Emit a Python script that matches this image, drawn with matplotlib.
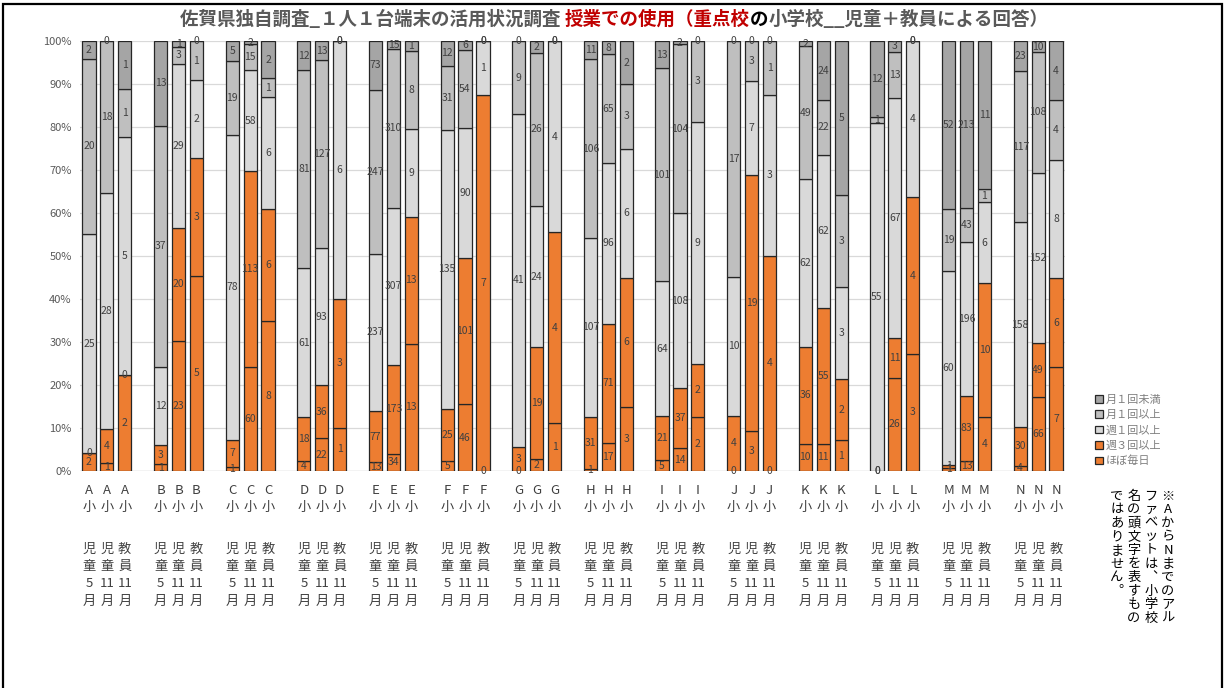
import matplotlib.pyplot as plt
from matplotlib.patches import Patch, Rectangle
from matplotlib.transforms import blended_transform_factory
import numpy as np

plt.rcParams['font.family'] = ['Noto Sans CJK JP', 'DejaVu Sans']

schools = list('ABCDEFGHIJKLMN')
periods = ['児\n童\n5\n月', '児\n童\n11\n月', '教\n員\n11\n月']

# counts per bar, 3 bars per school (児童5月, 児童11月, 教員11月)
daily = [2, 1, 2, 1, 23, 5, 1, 60, 8, 4, 22, 1, 13, 34, 13, 5, 46, 0, 0, 2, 1,
         1, 17, 3, 5, 14, 2, 0, 3, 0, 10, 11, 1, 0, 26, 3, 1, 13, 4, 4, 66, 7]
thrice = [0, 4, 0, 3, 20, 3, 7, 113, 6, 18, 36, 3, 77, 173, 13, 25, 101, 7, 3, 19, 4,
          31, 71, 6, 21, 37, 2, 4, 19, 4, 36, 55, 2, 0, 11, 4, 1, 83, 10, 30, 49, 6]
weekly = [25, 28, 5, 12, 29, 2, 78, 58, 6, 61, 93, 6, 237, 307, 9, 135, 90, 1, 41, 24, 4,
          107, 96, 6, 64, 108, 9, 10, 7, 3, 62, 62, 3, 55, 67, 4, 60, 196, 6, 158, 152, 8]
monthly = [20, 18, 1, 37, 3, 1, 19, 15, 1, 81, 127, 0, 247, 310, 8, 31, 54, 0, 9, 26, 0,
           106, 65, 3, 101, 104, 3, 17, 3, 1, 49, 22, 3, 1, 13, 0, 19, 43, 1, 117, 108, 4]
rare = [2, 0, 1, 13, 1, 0, 5, 2, 2, 12, 13, 0, 73, 15, 1, 12, 6, 0, 0, 2, 0,
        11, 8, 2, 13, 2, 0, 0, 0, 0, 2, 24, 5, 12, 3, 0, 52, 213, 11, 23, 10, 4]

series = [daily, thrice, weekly, monthly, rare]
names = ['ほぼ毎日', '週３回以上', '週１回以上', '月１回以上', '月１回未満']
colors = ['#ED7D31', '#ED7D31', '#D9D9D9', '#BFBFBF', '#A5A5A5']

note_cols = ['※AからNまでのアル', 'ファベットは︑小学校', '名の頭文字を表すもの', 'ではありません︒']

W, H = 1229, 688
fig = plt.figure(figsize=(W / 100, H / 100), dpi=100)
ax = fig.add_axes([80 / W, 1 - 471 / H, (1065 - 80) / W, (471 - 41) / H])

counts = np.array(series, dtype=float)
totals = counts.sum(axis=0)
pct = counts / totals * 100
x = np.array([g * 4 + k for g in range(len(schools)) for k in range(3)])

bottom = np.zeros(len(x))
for i in range(len(series)):
    ax.bar(x, pct[i], bottom=bottom, width=0.74, color=colors[i],
           edgecolor='#262626', linewidth=0.9, zorder=3)
    for xi, b, h, v in zip(x, bottom, pct[i], counts[i]):
        ax.text(xi, b + h / 2, f'{int(v)}', ha='center', va='center',
                fontsize=7.5, color='#404040', zorder=4)
    bottom += pct[i]

ax.set_xlim(-0.5, 54.5)
ax.set_ylim(0, 100)
ax.set_yticks(np.arange(0, 101, 10))
ax.set_yticklabels([f'{v}%' for v in range(0, 101, 10)], fontsize=8, color='#595959')
ax.grid(axis='y', color='#D9D9D9', linewidth=0.9, zorder=0)
for s in ax.spines.values():
    s.set_visible(False)
ax.axhline(0, color='#D9D9D9', linewidth=1, zorder=1)
ax.tick_params(length=0, pad=6)

# category labels: school on the ticks, survey group below
ax.set_xticks(x)
ax.set_xticklabels([f'{s}\n小' for s in schools for p in periods],
                   fontsize=9.5, color='#404040', linespacing=1.45, va='top')
ax.tick_params(axis='x', pad=9)
blend = blended_transform_factory(ax.transData, fig.transFigure)
for xi, lab in zip(x, periods * len(schools)):
    ax.text(xi, 1 - 543 / H, lab, transform=blend, ha='center', va='top',
            fontsize=9.5, color='#404040', linespacing=1.42)

# title in coloured pieces
title_parts = [('佐賀県独自調査_１人１台端末の活用状況調査 ', '#595959'),
               ('授業での使用（重点校', '#C00000'),
               ('の', '#000000'),
               ('小学校__児童＋教員による回答）', '#595959')]
texts = [fig.text(0, 0, txt, fontsize=13.3, fontweight='bold', color=col,
                  va='baseline') for txt, col in title_parts]
fig.canvas.draw()
r = fig.canvas.get_renderer()
xpos = 180
for tx in texts:
    tx.set_position((xpos / W, 1 - 25 / H))
    xpos += tx.get_window_extent(r).width

handles = [Patch(facecolor=c, edgecolor='#262626', linewidth=0.9) for c in colors]
fig.legend(handles[::-1], names[::-1], loc='upper left',
           bbox_to_anchor=(1085 / W, 1 - 385 / H), frameon=False, fontsize=8,
           handlelength=0.7, handleheight=0.7, handletextpad=0.3,
           labelspacing=0.45, labelcolor='#7F7F7F')

# vertical note, columns right to left
for ci, col in enumerate(note_cols):
    cx = 1168 - ci * 17
    for ri, ch in enumerate(col):
        fig.text(cx / W, 1 - (496 + ri * 13.6) / H, ch, fontsize=9.5,
                 ha='center', va='center', color='#000000')

fig.patches.append(Rectangle((3 / W, -0.1), (1222 - 3) / W, 1.1 - 4 / H,
                             transform=fig.transFigure, fill=False,
                             edgecolor='#000000', linewidth=1.6))

fig.savefig('out.png', dpi=100)
